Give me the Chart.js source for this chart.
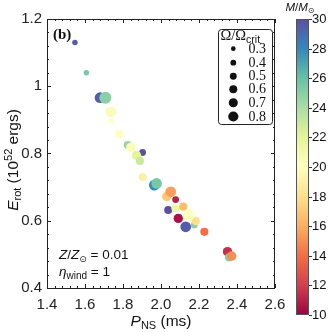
<!DOCTYPE html>
<html><head><meta charset="utf-8">
<script src="https://cdn.jsdelivr.net/npm/chart.js@4/dist/chart.umd.min.js"></script>
<style>html,body{margin:0;padding:0;background:#fff;}canvas{display:block;}</style>
</head><body>
<canvas id="c" width="332" height="332"></canvas>
<script>
// ---- data ----
const periodMs   = [1.547,1.607,1.679,1.707,1.735,1.738,1.779,1.825,1.841,1.903,1.871,1.889,1.903,1.965,1.977,2.030,2.051,2.077,2.038,2.076,2.117,2.091,2.175,2.183,2.144,2.130,2.228,2.350,2.358,2.372];
const energyRot  = [1.130,1.040,0.966,0.966,0.924,0.897,0.858,0.825,0.818,0.803,0.794,0.778,0.730,0.706,0.711,0.672,0.686,0.663,0.632,0.637,0.642,0.607,0.587,0.599,0.617,0.582,0.567,0.508,0.491,0.495];
const massMsun   = [29.5,25.5,29.5,25,20.5,20,20,24.5,20.5,30,22,23,19,28,25.5,17,15.5,11,30,21.5,16.5,10.5,25,18,20,29.5,14,11.5,25,15];
const omegaRatio = [0.3,0.3,0.7,0.8,0.7,0.3,0.5,0.5,0.6,0.4,0.6,0.5,0.5,0.7,0.7,0.6,0.7,0.4,0.5,0.5,0.5,0.6,0.4,0.5,0.8,0.7,0.5,0.6,0.5,0.6];
const xTickLabels = ['1.4','1.6','1.8','2.0','2.2','2.4','2.6'];
const yTickLabels = ['0.4','0.6','0.8','1','1.2'];
const colorbarTicks = [10,12,14,16,18,20,22,24,26,28,30];
const legendOmegas = [0.3,0.4,0.5,0.6,0.7,0.8];

// ---- styling helpers ----
const SPECTRAL = ['#9e0142','#d53e4f','#f46d43','#fdae61','#fee08b','#ffffbf','#e6f598','#abdda4','#66c2a5','#3288bd','#5e4fa2'];
function hex2rgb(h){return [parseInt(h.substr(1,2),16),parseInt(h.substr(3,2),16),parseInt(h.substr(5,2),16)];}
function spectral(t){
  t=Math.max(0,Math.min(1,t));
  const p=t*(SPECTRAL.length-1), i=Math.min(Math.floor(p),SPECTRAL.length-2), f=p-i;
  const a=hex2rgb(SPECTRAL[i]), b=hex2rgb(SPECTRAL[i+1]);
  return 'rgb('+a.map((v,k)=>Math.round(v+(b[k]-v)*f)).join(',')+')';
}
const MMIN=10, MMAX=30;
function radiusFor(om){return 0.8+6.5*om;}
const SANS='"Liberation Sans", Arial, sans-serif';
const SERIF='"Liberation Serif", "Times New Roman", serif';

const points = periodMs.map((p,i)=>({x:p,y:energyRot[i],r:radiusFor(omegaRatio[i])}));
const colors = massMsun.map(m=>spectral((m-MMIN)/(MMAX-MMIN)));

function rich(ctx, parts, x, y, align){
  let w=0;
  parts.forEach(p=>{ctx.font=p.font; p.w=ctx.measureText(p.t).width; w+=p.w;});
  let cx = align==='center'? x-w/2 : x;
  parts.forEach(p=>{ctx.font=p.font; ctx.textAlign='left'; ctx.textBaseline='alphabetic'; ctx.fillText(p.t,cx,y+(p.dy||0)); cx+=p.w;});
}

const decor = {
  id:'decor',
  afterDraw(chart){
    const ctx=chart.ctx, a=chart.chartArea, xs=chart.scales.x, ys=chart.scales.y;
    ctx.save();
    ctx.strokeStyle='#222'; ctx.lineWidth=1;
    ctx.strokeRect(Math.round(a.left)+0.5, Math.round(a.top)+0.5, Math.round(a.right-a.left)-1, Math.round(a.bottom-a.top));
    // inward ticks
    ctx.beginPath();
    xs.ticks.forEach((t,i)=>{
      const px=Math.round(xs.getPixelForValue(t.value))+0.5, L=(i%5===0)?4:2;
      ctx.moveTo(px,a.bottom); ctx.lineTo(px,a.bottom-L);
      ctx.moveTo(px,a.top); ctx.lineTo(px,a.top+L);
    });
    ys.ticks.forEach((t,i)=>{
      const py=Math.round(ys.getPixelForValue(t.value))+0.5, L=(i%5===0)?4:2;
      ctx.moveTo(a.left,py); ctx.lineTo(a.left+L,py);
      ctx.moveTo(a.right,py); ctx.lineTo(a.right-L,py);
    });
    ctx.stroke();

    ctx.fillStyle='#111';
    // (b)
    ctx.font='bold 15px '+SERIF; ctx.textAlign='left'; ctx.textBaseline='alphabetic';
    ctx.fillText('(b)', 53, 39);
    // annotations
    rich(ctx,[{t:'Z',font:'italic 13.5px '+SANS},{t:'/',font:'13.5px '+SANS},{t:'Z',font:'italic 13.5px '+SANS},{t:'\u2299',font:'9px "DejaVu Sans", sans-serif',dy:3},{t:' = 0.01',font:'13.5px '+SANS}],59,259,'left');
    rich(ctx,[{t:'\u03b7',font:'italic 13.5px '+SANS},{t:'wind',font:'10px '+SANS,dy:3},{t:' = 1',font:'13.5px '+SANS}],59,276,'left');
    // axis titles
    rich(ctx,[{t:'P',font:'italic 15.5px '+SANS},{t:'NS',font:'11px '+SANS,dy:3},{t:' (ms)',font:'15.5px '+SANS}],161,326,'center');
    ctx.save(); ctx.translate(17.5,160); ctx.rotate(-Math.PI/2);
    rich(ctx,[{t:'E',font:'italic 15.5px '+SANS},{t:'rot',font:'11px '+SANS,dy:3},{t:' (10',font:'15.5px '+SANS},{t:'52',font:'11px '+SANS,dy:-6},{t:' ergs)',font:'15.5px '+SANS}],0,0,'center');
    ctx.restore();

    // size legend
    const bx=218.5, by=29.5, bw=54, bh=95, rr=3;
    ctx.beginPath();
    ctx.moveTo(bx+rr,by); ctx.lineTo(bx+bw-rr,by); ctx.arcTo(bx+bw,by,bx+bw,by+rr,rr);
    ctx.lineTo(bx+bw,by+bh-rr); ctx.arcTo(bx+bw,by+bh,bx+bw-rr,by+bh,rr);
    ctx.lineTo(bx+rr,by+bh); ctx.arcTo(bx,by+bh,bx,by+bh-rr,rr);
    ctx.lineTo(bx,by+rr); ctx.arcTo(bx,by,bx+rr,by,rr); ctx.closePath();
    ctx.fillStyle='#fff'; ctx.fill(); ctx.strokeStyle='#222'; ctx.stroke();
    ctx.fillStyle='#111';
    rich(ctx,[{t:'\u03a9/\u03a9',font:'14.5px '+SERIF},{t:'crit',font:'10.5px '+SANS,dy:3}],220.5,40,'left');
    const rowsY=[48.7,62.7,76.3,89.3,102.7,116.5];
    legendOmegas.forEach((om,i)=>{
      ctx.beginPath(); ctx.arc(233.3,rowsY[i],radiusFor(om)*0.85,0,Math.PI*2); ctx.fillStyle='#111'; ctx.fill();
      ctx.font='14px '+SERIF; ctx.textAlign='left'; ctx.textBaseline='middle';
      ctx.fillText(om.toFixed(1),248.5,rowsY[i]+0.5);
    });

    // colorbar
    const cx0=296, cx1=309, cy0=19, cy1=315;
    const g=ctx.createLinearGradient(0,cy1,0,cy0);
    SPECTRAL.forEach((c,i)=>g.addColorStop(i/(SPECTRAL.length-1),c));
    ctx.fillStyle=g; ctx.fillRect(cx0,cy0,cx1-cx0,cy1-cy0);
    ctx.strokeStyle='#555'; ctx.lineWidth=1; ctx.strokeRect(cx0+0.5,cy0+0.5,cx1-cx0-1,cy1-cy0-1);
    ctx.fillStyle='#111'; ctx.font='13px '+SANS; ctx.textAlign='left'; ctx.textBaseline='middle';
    ctx.beginPath();
    colorbarTicks.forEach(v=>{
      const py=cy1-(v-MMIN)/(MMAX-MMIN)*(cy1-cy0);
      const yy=Math.round(py)+0.5;
      ctx.moveTo(cx1,yy); ctx.lineTo(cx1+3,yy);
      ctx.fillText(String(v),312,py+0.5);
    });
    ctx.strokeStyle='#333'; ctx.stroke();
    rich(ctx,[{t:'M',font:'italic 11.5px '+SANS},{t:'/',font:'11.5px '+SANS},{t:'M',font:'italic 11.5px '+SANS},{t:'\u2299',font:'8px "DejaVu Sans", sans-serif',dy:2}],300,11,'center');
    ctx.restore();
  }
};

function majorLabel(arr){
  return function(v,i){ return (i%5===0)? arr[i/5] : ''; };
}

new Chart(document.getElementById('c'),{
  type:'bubble',
  data:{datasets:[{data:points, backgroundColor:colors, borderWidth:0, hoverBorderWidth:0}]},
  options:{
    responsive:false, animation:false, devicePixelRatio:1,
    layout:{padding:{top:19,right:57,left:0,bottom:0}},
    plugins:{legend:{display:false},tooltip:{enabled:false}},
    events:[],
    scales:{
      x:{type:'linear',min:1.4,max:2.6,
        afterBuildTicks(s){const t=[];for(let i=0;i<=30;i++)t.push({value:+(1.4+i*0.04).toFixed(2)});s.ticks=t;},
        afterFit(s){s.height=44;},
        grid:{display:false,drawTicks:false}, border:{display:false},
        ticks:{autoSkip:false,maxRotation:0,padding:8,color:'#222',font:{family:SANS,size:15},callback:majorLabel(xTickLabels)}},
      y:{type:'linear',min:0.4,max:1.2,
        afterBuildTicks(s){const t=[];for(let i=0;i<=20;i++)t.push({value:+(0.4+i*0.04).toFixed(2)});s.ticks=t;},
        afterFit(s){s.width=47;},
        grid:{display:false,drawTicks:false}, border:{display:false},
        ticks:{autoSkip:false,padding:5,color:'#222',font:{family:SANS,size:15},callback:majorLabel(yTickLabels)}}
    }
  },
  plugins:[decor]
});
</script>
</body></html>
